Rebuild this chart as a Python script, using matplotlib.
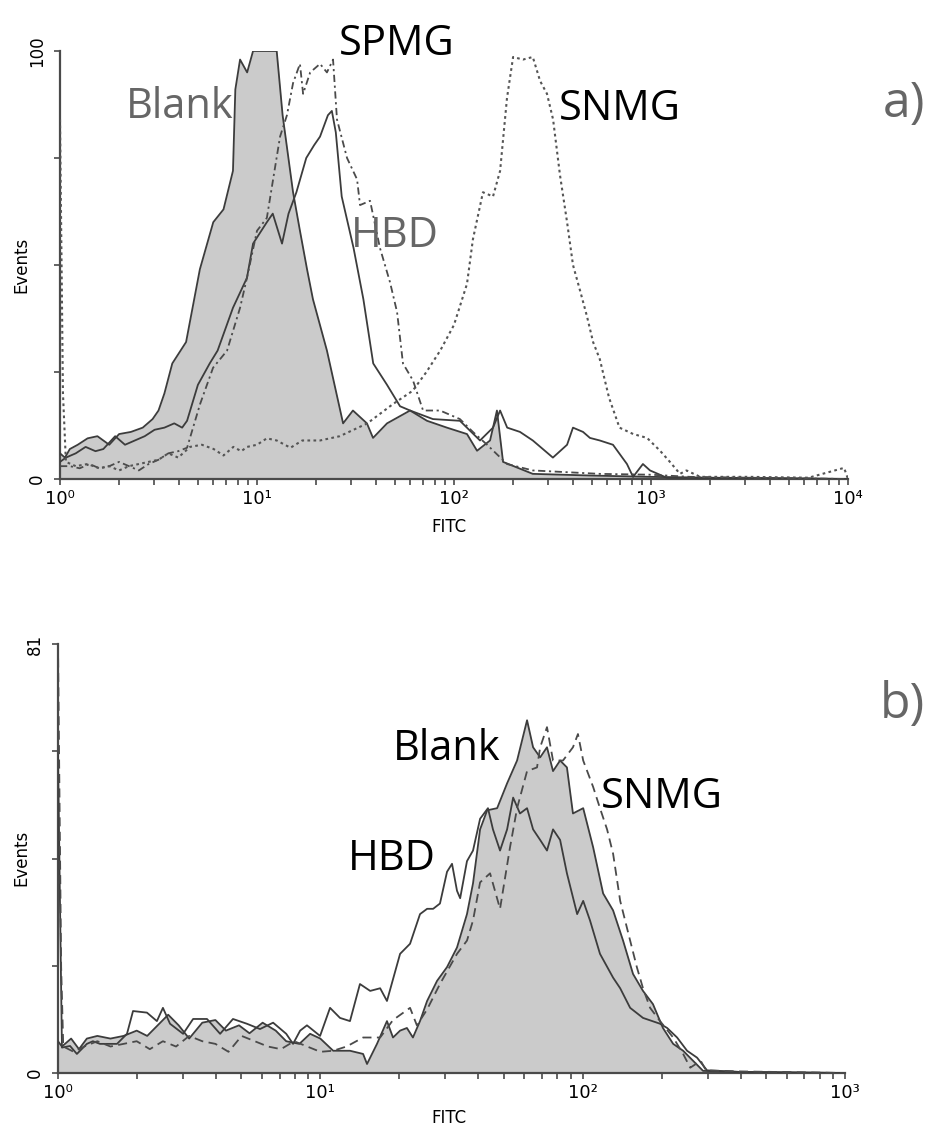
import numpy as np
import matplotlib.pyplot as plt
from matplotlib.ticker import FixedLocator, FixedFormatter, NullFormatter

plt.rcParams['font.family'] = ['DejaVu Sans']

# ---------- panel a) : log10(FITC) positions and event counts ----------
a_blank_log = [0.0, 0.025, 0.05, 0.09, 0.14, 0.19, 0.25, 0.30, 0.36, 0.42, 0.47, 0.50, 0.53,
               0.57, 0.64, 0.71, 0.778, 0.83, 0.878, 0.89, 0.914, 0.95, 0.98, 1.10, 1.13,
               1.183, 1.218, 1.254, 1.284, 1.355, 1.437, 1.487, 1.558, 1.589, 1.66, 1.777,
               1.863, 1.964, 2.066, 2.117, 2.183, 2.218, 2.249, 2.40, 2.7, 3.0, 3.3, 3.6, 4.0]
a_blank_val = [6, 5, 7, 8, 9.5, 10, 8, 10.5, 11, 12, 14, 16, 20,
               27, 32, 49, 60, 63, 72, 91, 98, 95, 100, 100, 85,
               67, 58, 49, 42, 30, 13, 16, 13, 9.6, 13, 16,
               13.6, 12, 10.5, 6.6, 9, 16, 4, 1.2, 0.8, 0.5, 0.3, 0.2, 0]

a_hbd_log = [0.0, 0.03, 0.08, 0.13, 0.18, 0.22, 0.28, 0.33, 0.38, 0.43, 0.48, 0.53, 0.58,
             0.62, 0.645, 0.70, 0.76, 0.80, 0.878, 0.949, 0.98, 1.05, 1.08, 1.127, 1.16,
             1.20, 1.25, 1.29, 1.32, 1.36, 1.38, 1.40, 1.43, 1.49, 1.54, 1.59, 1.66,
             1.726, 1.777, 1.893, 2.03, 2.132, 2.198, 2.234, 2.27, 2.335, 2.40, 2.502,
             2.574, 2.604, 2.655, 2.69, 2.74, 2.807, 2.878, 2.909, 2.959, 2.995, 3.08, 3.5, 4.0]
a_hbd_val = [4, 5, 6, 7.5, 6.5, 7, 10, 8, 9, 10, 11.5, 12, 13,
             12, 13.6, 22, 27, 30, 40, 47, 55, 60, 62, 55, 62,
             67, 75, 78, 80, 85, 86, 81, 66, 54, 42, 27, 22,
             17, 16, 14, 13.6, 9, 12, 16, 12, 11, 9, 5,
             8, 12, 11, 9.6, 9, 8, 3.5, 0.5, 3.5, 2, 0.3, 0.2, 0]

a_spmg_log = [0.0, 0.05, 0.10, 0.15, 0.20, 0.25, 0.30, 0.35, 0.40, 0.45, 0.50, 0.55, 0.60,
              0.645, 0.711, 0.777, 0.848, 0.914, 0.949, 1.0, 1.05, 1.117, 1.152, 1.183,
              1.218, 1.234, 1.27, 1.32, 1.355, 1.386, 1.406, 1.457, 1.508, 1.523, 1.574,
              1.624, 1.675, 1.711, 1.741, 1.792, 1.843, 1.929, 2.03, 2.096, 2.168, 2.269,
              2.40, 2.74, 3.0, 3.2, 3.5, 4.0]
a_spmg_val = [3, 3, 2.5, 3.5, 2.5, 3, 4, 3, 2, 3.5, 4.5, 6, 6.5,
              7.3, 17.5, 26, 30, 40, 47, 58, 61, 80, 85, 92.5,
              97, 90, 95, 97, 95, 98, 84, 75, 70, 64, 65,
              54, 46, 39, 27, 23, 16, 16, 14, 11, 8, 3.5,
              2, 1.2, 1, 0.5, 0.3, 0]

a_snmg_log = [0.0, 0.015, 0.03, 0.08, 0.14, 0.2, 0.25, 0.30, 0.35, 0.40, 0.45, 0.50, 0.55,
              0.60, 0.66, 0.72, 0.78, 0.83, 0.88, 0.92, 0.95, 1.0, 1.05, 1.10, 1.17, 1.23,
              1.32, 1.42, 1.56, 1.69, 1.79, 1.86, 1.93, 2.0, 2.066, 2.096, 2.147, 2.198,
              2.234, 2.269, 2.30, 2.35, 2.40, 2.437, 2.472, 2.503, 2.538, 2.574, 2.604,
              2.64, 2.675, 2.706, 2.74, 2.787, 2.84, 2.91, 2.98, 3.046, 3.096, 3.147,
              3.18, 3.25, 3.5, 3.8, 3.98, 4.0]
a_snmg_val = [84, 20, 4, 3, 3.5, 2.5, 3, 2, 3, 3.5, 4, 4.5, 6,
              5, 7.5, 8, 7, 5.5, 7.5, 6.5, 7.5, 8, 9.5, 9, 7.3, 9,
              9, 10, 13, 17.5, 20.6, 25, 30, 36, 45.6, 56, 67, 66,
              72, 89, 98.6, 98, 98.6, 93, 90, 84, 71, 60, 50,
              44, 38, 32, 28, 19, 12, 10.5, 9.6, 6.6, 4, 1.2,
              2, 0.5, 0.5, 0.3, 2.6, 0]

# ---------- panel b) ----------
b_blank_log = [0.0, 0.015, 0.05, 0.08, 0.11, 0.15, 0.2, 0.25, 0.30, 0.34, 0.38, 0.42, 0.46,
               0.50, 0.55, 0.60, 0.64, 0.69, 0.73, 0.78, 0.83, 0.87, 0.92, 0.961, 1.0,
               1.049, 1.113, 1.163, 1.178, 1.216, 1.254, 1.277, 1.304, 1.33, 1.353, 1.38,
               1.407, 1.445, 1.483, 1.521, 1.559, 1.582, 1.609, 1.636, 1.674, 1.712, 1.75,
               1.788, 1.811, 1.838, 1.864, 1.887, 1.914, 1.94, 1.963, 2.002, 2.04, 2.078,
               2.116, 2.154, 2.192, 2.23, 2.268, 2.306, 2.345, 2.383, 2.421, 2.459, 2.6, 3.0]
b_blank_val = [6, 5, 6.5, 4.5, 6.5, 7, 6.5, 7, 8, 7, 9, 11, 9,
               6.5, 9.5, 10, 8, 9, 7.5, 9.5, 8, 6, 5.5, 7.4, 6.5,
               4.2, 4.2, 3.6, 1.7, 5.5, 9.8, 6.7, 8, 8.5, 6.7, 9.8,
               13.6, 17.4, 20, 23.7, 30, 35.8, 46, 49.6, 50, 54.7, 59,
               66.6, 61.5, 59.6, 61.5, 57, 59, 57.7, 49, 50, 42.6, 33.9,
               30.7, 25, 18.7, 15.5, 13, 8.5, 5.5, 4.2, 2.3, 0.4, 0.2, 0]

b_hbd_log = [0.0, 0.015, 0.046, 0.072, 0.11, 0.133, 0.16, 0.225, 0.263, 0.286, 0.339, 0.377,
             0.40, 0.427, 0.477, 0.515, 0.568, 0.618, 0.667, 0.72, 0.77, 0.82, 0.87, 0.896,
             0.923, 0.949, 0.999, 1.037, 1.075, 1.113, 1.151, 1.19, 1.228, 1.254, 1.304,
             1.342, 1.38, 1.407, 1.43, 1.456, 1.483, 1.502, 1.521, 1.533, 1.559, 1.582,
             1.609, 1.639, 1.658, 1.685, 1.712, 1.735, 1.761, 1.788, 1.811, 1.838, 1.864,
             1.887, 1.914, 1.94, 1.979, 2.002, 2.028, 2.066, 2.116, 2.143, 2.181, 2.23,
             2.295, 2.322, 2.36, 2.398, 2.436, 2.474, 2.6, 3.0]
b_hbd_val = [60, 4.8, 5.1, 3.6, 5.5, 6, 5.5, 5.5, 7.4, 11.7, 11.4, 9.8,
             12.3, 9.3, 7.4, 10.2, 10.2, 7.4, 10.2, 9.3, 8.3, 9.5, 7.4, 5.5,
             8, 9, 7, 12.3, 10.4, 9.8, 16.8, 15.5, 16, 13.6, 22.5,
             24.4, 30, 31, 31, 32, 38, 39.5, 34.4, 33, 40, 42,
             48, 50, 46, 42, 46, 52, 49, 50, 46, 44, 42,
             46, 44, 37.7, 30, 32.5, 28.8, 22.5, 18, 16, 12.3, 10.4,
             9.3, 8.5, 6.7, 4.2, 2.9, 0.5, 0.2, 0]

b_snmg_log = [0.0, 0.012, 0.02, 0.06, 0.10, 0.15, 0.2, 0.25, 0.3, 0.35, 0.40, 0.45, 0.50,
              0.55, 0.60, 0.65, 0.70, 0.75, 0.80, 0.85, 0.90, 0.95, 1.0, 1.049, 1.1, 1.163,
              1.228, 1.277, 1.342, 1.368, 1.407, 1.456, 1.521, 1.559, 1.582, 1.609, 1.647,
              1.685, 1.723, 1.75, 1.788, 1.826, 1.838, 1.864, 1.887, 1.925, 1.963, 1.982,
              2.002, 2.04, 2.066, 2.093, 2.116, 2.143, 2.181, 2.207, 2.23, 2.257, 2.295,
              2.345, 2.383, 2.41, 2.45, 2.47, 2.6, 3.0]
b_snmg_val = [81, 20, 5, 4, 5, 6, 5, 5.5, 6, 4.5, 6, 5, 7,
              6, 5.5, 4, 7, 6, 5, 4.5, 6, 5, 4, 4.2, 5, 6.7,
              6.7, 10, 12.3, 9, 12, 16.8, 22.5, 25, 28.8, 36, 37.7,
              31, 42.6, 50, 57, 57.7, 61.5, 65.3, 59, 59, 61.5, 64,
              59, 54, 50, 46, 41.4, 32.5, 25, 19.9, 16, 12.3, 9.8,
              6.7, 3.6, 1, 2.3, 0.5, 0.3, 0]

a_ticks = ['10⁰', '10¹', '10²', '10³', '10⁴']
b_ticks = ['10⁰', '10¹', '10²', '10³']

W, H = 929, 1128
LINE = '#3c3c3c'
FILL = '#cbcbcb'

fig = plt.figure(figsize=(W / 100, H / 100), dpi=100)
ax_a = fig.add_axes([60 / W, 1 - 479 / H, (848 - 60) / W, (479 - 51) / H])
ax_b = fig.add_axes([58 / W, 1 - 1073 / H, (845 - 58) / W, (1073 - 644) / H])


def style_axes(ax, ndec, ymax, yticks, labels):
    ax.set_xscale('log')
    ax.set_xlim(1, 10 ** ndec)
    ax.set_ylim(0, ymax)
    for s in ['top', 'right']:
        ax.spines[s].set_visible(False)
    for s in ['left', 'bottom']:
        ax.spines[s].set_color('#4a4a4a')
        ax.spines[s].set_linewidth(1.6)
    ax.xaxis.set_major_locator(FixedLocator([10 ** k for k in range(ndec + 1)]))
    ax.xaxis.set_major_formatter(FixedFormatter(labels))
    minors = [m * 10 ** k for k in range(ndec) for m in range(2, 10)]
    ax.xaxis.set_minor_locator(FixedLocator(minors))
    ax.xaxis.set_minor_formatter(NullFormatter())
    ax.set_yticks(yticks)
    ax.set_yticklabels([str(int(round(yticks[0])))] + [''] * (len(yticks) - 2) + [str(int(round(yticks[-1])))])
    ax.tick_params(axis='x', which='both', direction='out', length=4, width=1.2,
                   color='#4a4a4a', labelsize=13, pad=4)
    ax.tick_params(axis='y', direction='out', length=4, width=1.2, color='#4a4a4a',
                   labelsize=12, pad=6, labelrotation=90)
    for t in ax.get_yticklabels():
        t.set_va('center')


style_axes(ax_a, 4, 100, [0, 25, 50, 75, 100], a_ticks)
style_axes(ax_b, 3, 81, [0, 20.25, 40.5, 60.75, 81], b_ticks)

# panel a curves
x = 10 ** np.array(a_blank_log)
ax_a.fill_between(x, a_blank_val, 0, color=FILL, lw=0, zorder=1)
ax_a.plot(x, a_blank_val, color=LINE, lw=1.3, zorder=3)
ax_a.plot(10 ** np.array(a_hbd_log), a_hbd_val, color=LINE, lw=1.3, zorder=3)
ax_a.plot(10 ** np.array(a_spmg_log), a_spmg_val, color='#4a4a4a', lw=1.3,
          ls=(0, (4, 2, 1.2, 2)), zorder=3)
ax_a.plot(10 ** np.array(a_snmg_log), a_snmg_val, color='#555555', lw=1.5,
          ls=(0, (1.3, 1.6)), zorder=3)

# panel b curves
x = 10 ** np.array(b_blank_log)
ax_b.fill_between(x, b_blank_val, 0, color=FILL, lw=0, zorder=1)
ax_b.plot(x, b_blank_val, color=LINE, lw=1.3, zorder=3)
ax_b.plot(10 ** np.array(b_hbd_log), b_hbd_val, color=LINE, lw=1.3, zorder=3)
ax_b.plot(10 ** np.array(b_snmg_log), b_snmg_val, color='#4a4a4a', lw=1.3,
          ls=(0, (5, 3)), zorder=4)

# axis titles
for y_mid, y_fitc in [(265, 527), (858, 1118)]:
    fig.text(21 / W, 1 - y_mid / H, 'Events', rotation=90, ha='center', va='center', fontsize=12)
    fig.text(449 / W, 1 - y_fitc / H, 'FITC', ha='center', va='center', fontsize=12)

# curve names
big = dict(family=['Open Sans', 'DejaVu Sans'], fontsize=30)
fig.text(397 / W, 1 - 55 / H, 'SPMG', color='black', ha='center', va='baseline', **big)
fig.text(180 / W, 1 - 118 / H, 'Blank', color='#666666', ha='center', va='baseline', **big)
fig.text(395 / W, 1 - 247 / H, 'HBD', color='#666666', ha='center', va='baseline', **big)
fig.text(620 / W, 1 - 120 / H, 'SNMG', color='black', ha='center', va='baseline', **big)
fig.text(883 / W, 1 - 117 / H, 'a)', color='#666666', ha='left', va='baseline',
         family=['Open Sans', 'DejaVu Sans'], fontsize=36)

fig.text(447 / W, 1 - 760 / H, 'Blank', color='black', ha='center', va='baseline', **big)
fig.text(392 / W, 1 - 870 / H, 'HBD', color='black', ha='center', va='baseline', **big)
fig.text(662 / W, 1 - 808 / H, 'SNMG', color='black', ha='center', va='baseline', **big)
fig.text(880 / W, 1 - 718 / H, 'b)', color='#666666', ha='left', va='baseline',
         family=['Open Sans', 'DejaVu Sans'], fontsize=36)

fig.savefig('out.png', dpi=100)
